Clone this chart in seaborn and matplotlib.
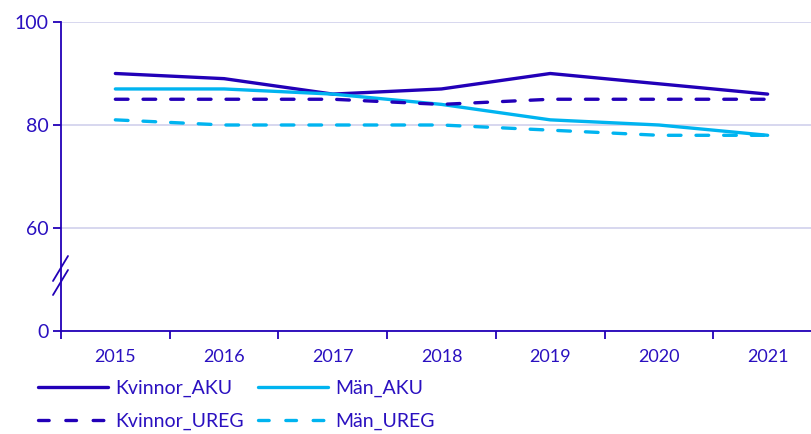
#!/usr/bin/env python3

import pandas as pd
import seaborn as sns
import matplotlib.pyplot as plt
from matplotlib.lines import Line2D

years = ["2015", "2016", "2017", "2018", "2019", "2020", "2021"]
kvinnor_aku = [90, 89, 86, 87, 90, 88, 86]
man_aku = [87, 87, 86, 84, 81, 80, 78]
kvinnor_ureg = [85, 85, 85, 84, 85, 85, 85]
man_ureg = [81, 80, 80, 80, 79, 78, 78]

series = ["Kvinnor_AKU", "Män_AKU", "Kvinnor_UREG", "Män_UREG"]
ytick_vals = [40, 60, 80, 100]
ytick_labels = ["0", "60", "80", "100"]

DARK = "#2200b8"
LIGHT = "#00b4f0"
TEXT = "#2a10c0"
GRID = "#d4d4ee"
DASH = (3.8, 4.5)


def main():
    sns.set_style("white")
    plt.rcParams["font.family"] = ["Lato", "DejaVu Sans"]
    plt.rcParams["lines.dash_capstyle"] = "round"

    df = pd.DataFrame({
        "year": years * 4,
        "value": kvinnor_aku + man_aku + kvinnor_ureg + man_ureg,
        "serie": sum([[s] * len(years) for s in series], []),
    })

    fig = plt.figure(figsize=(8.12, 4.34), dpi=100)
    ax = fig.add_axes([61 / 812, 103 / 434, 761 / 812, 309 / 434])

    palette = {"Kvinnor_AKU": DARK, "Män_AKU": LIGHT,
               "Kvinnor_UREG": DARK, "Män_UREG": LIGHT}
    dashes = {"Kvinnor_AKU": "", "Män_AKU": "",
              "Kvinnor_UREG": DASH, "Män_UREG": DASH}
    sns.lineplot(data=df, x="year", y="value", hue="serie", style="serie",
                 palette=palette, dashes=dashes, linewidth=2.4,
                 sort=False, legend=False, ax=ax, zorder=3)

    ax.set_xlim(-0.5, len(years) - 0.5)
    ax.set_ylim(40, 100)
    ax.set_yticks(ytick_vals)
    ax.set_yticklabels(ytick_labels)
    ax.yaxis.grid(True, color=GRID, linewidth=1.3)
    ax.set_axisbelow(True)

    ax.set_xticks(range(len(years)))
    ax.set_xticklabels(years)
    ax.set_xticks([i - 0.5 for i in range(len(years) + 1)], minor=True)
    ax.tick_params(axis="x", which="major", length=0, pad=13,
                   labelsize=13, labelcolor=TEXT)
    ax.tick_params(axis="x", which="minor", bottom=True, length=6, width=1.3,
                   color=DARK, direction="out")
    ax.tick_params(axis="y", left=True, length=6, width=1.3, color=DARK,
                   labelsize=14, labelcolor=TEXT, pad=3)
    ax.set_xlabel("")
    ax.set_ylabel("")

    for side in ["top", "right"]:
        ax.spines[side].set_visible(False)
    for side in ["left", "bottom"]:
        ax.spines[side].set_color(DARK)
        ax.spines[side].set_linewidth(1.3)

    # axis break marks
    for y0 in [281, 295]:
        fig.add_artist(Line2D([53 / 812, 68 / 812],
                              [1 - y0 / 434, 1 - (y0 - 25) / 434],
                              color=DARK, linewidth=1.3))

    handles = {
        "Kvinnor_AKU": Line2D([], [], color=DARK, linewidth=2.4),
        "Män_AKU": Line2D([], [], color=LIGHT, linewidth=2.4),
        "Kvinnor_UREG": Line2D([], [], color=DARK, linewidth=2.4,
                               dashes=(3.2, 5)),
        "Män_UREG": Line2D([], [], color=LIGHT, linewidth=2.4,
                           dashes=(3.2, 5)),
    }
    # legend fills column by column, so reorder to get row-wise layout
    order = ["Kvinnor_AKU", "Kvinnor_UREG", "Män_AKU", "Män_UREG"]
    fig.legend([handles[k] for k in order], order, loc="upper left",
               bbox_to_anchor=(38 / 812, 1 - 380 / 434), ncol=2,
               frameon=False, fontsize=14, labelcolor=TEXT,
               handlelength=3.6, handletextpad=0.36, columnspacing=0.75,
               labelspacing=0.8, borderaxespad=0, borderpad=0)

    fig.savefig("out.png", dpi=100)


if __name__ == "__main__":
    main()
